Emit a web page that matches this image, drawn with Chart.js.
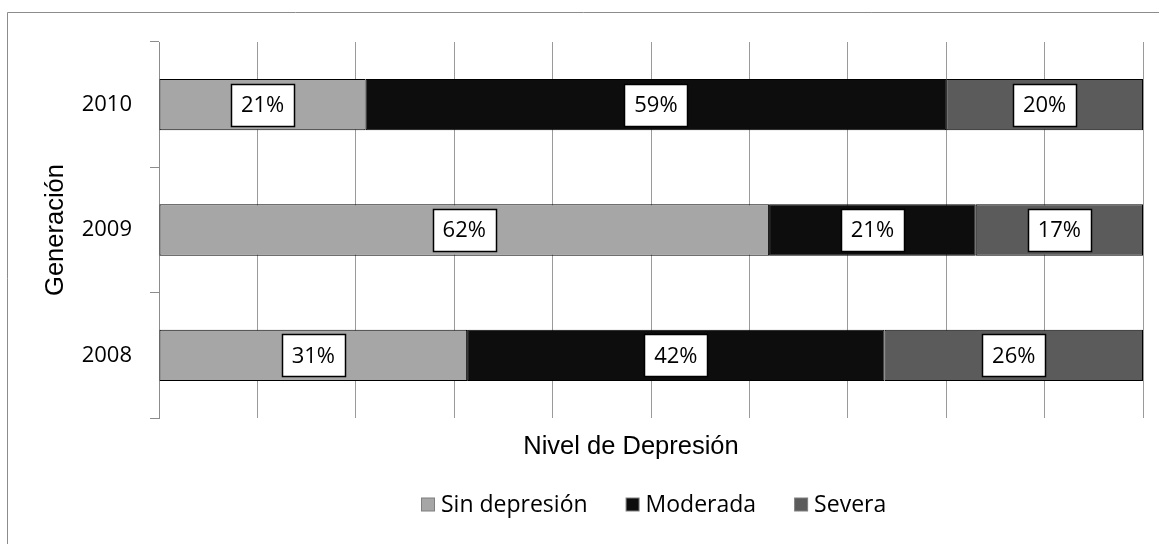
<!DOCTYPE html>
<html>
<head>
<meta charset="utf-8">
<script src="https://cdn.jsdelivr.net/npm/chart.js@4.4.1/dist/chart.umd.min.js"></script>
<style>
  html, body { margin: 0; padding: 0; background: #fff; }
  #wrap { width: 1159px; height: 544px; position: relative; }
</style>
</head>
<body>
<div id="wrap"><canvas id="c" width="1159" height="544"></canvas></div>
<script>
// Generations (top to bottom) and the share of each depression level, in %
const years = ['2010', '2009', '2008'];
const sinDepresion = [21, 62, 31];
const moderada = [59, 21, 42];
const severa = [20, 17, 26];

const seriesNames = ['Sin depresión', 'Moderada', 'Severa'];
const seriesColors = ['#a6a6a6', '#0d0d0d', '#5b5b5b'];
const seriesValues = [sinDepresion, moderada, severa];

const yTitle = 'Generación';
const xTitle = 'Nivel de Depresión';

// 100% stacked: each row is scaled by its own total
const rowTotals = years.map((_, i) => seriesValues.reduce((s, arr) => s + arr[i], 0));

const labelFont = '22px "Open Sans", "Noto Sans", sans-serif';
const legendFont = '23px "Open Sans", "Noto Sans", sans-serif';
const titleFont = '25.5px "Liberation Sans", Arial, sans-serif';

const datasets = seriesNames.map((name, k) => ({
  label: name,
  data: seriesValues[k].map((v, i) => v / rowTotals[i] * 100),
  pct: seriesValues[k],
  backgroundColor: seriesColors[k],
  borderColor: '#000',
  borderWidth: 1,
  borderSkipped: false,
  categoryPercentage: 1,
  barPercentage: 0.41
}));

const decorations = {
  id: 'decorations',
  beforeDraw(chart) {
    const ctx = chart.ctx;
    ctx.save();
    ctx.fillStyle = '#fff';
    ctx.fillRect(0, 0, chart.width, chart.height);
    ctx.strokeStyle = '#8c8c8c';
    ctx.lineWidth = 1;
    ctx.beginPath();
    ctx.moveTo(7.5, chart.height);
    ctx.lineTo(7.5, 12.5);
    ctx.lineTo(chart.width, 12.5);
    ctx.stroke();
    ctx.restore();
  },
  afterDatasetsDraw(chart) {
    const ctx = chart.ctx;
    ctx.save();
    ctx.font = labelFont;
    ctx.textAlign = 'center';
    ctx.textBaseline = 'middle';
    chart.data.datasets.forEach((ds, k) => {
      chart.getDatasetMeta(k).data.forEach((bar, i) => {
        const txt = ds.pct[i] + '%';
        const cx = (bar.x + bar.base) / 2;
        const cy = bar.y;
        const w = ctx.measureText(txt).width + 20;
        const h = 42;
        const x0 = Math.round(cx - w / 2) + 0.5;
        const y0 = Math.round(cy - h / 2) + 0.5;
        ctx.fillStyle = '#fff';
        ctx.fillRect(x0, y0, Math.round(w), h);
        ctx.strokeStyle = '#000';
        ctx.lineWidth = 1.5;
        ctx.strokeRect(x0, y0, Math.round(w), h);
        ctx.fillStyle = '#000';
        ctx.fillText(txt, cx, cy + 1);
      });
    });
    ctx.restore();
  },
  afterDraw(chart) {
    const ctx = chart.ctx;
    const area = chart.chartArea;
    ctx.save();
    ctx.fillStyle = '#000';
    // axis titles
    ctx.font = titleFont;
    ctx.textAlign = 'center';
    ctx.textBaseline = 'alphabetic';
    ctx.fillText(xTitle, 631, 454);
    ctx.save();
    ctx.translate(63, (area.top + area.bottom) / 2);
    ctx.rotate(-Math.PI / 2);
    ctx.fillText(yTitle, 0, 0);
    ctx.restore();

    // legend
    ctx.font = legendFont;
    ctx.textAlign = 'left';
    ctx.textBaseline = 'middle';
    const box = 13, gapIn = 7, gapOut = 38, cy = 504;
    const widths = seriesNames.map(n => box + gapIn + ctx.measureText(n).width);
    const total = widths.reduce((a, b) => a + b, 0) + gapOut * (seriesNames.length - 1);
    let x = Math.round(654 - total / 2);
    seriesNames.forEach((n, k) => {
      ctx.fillStyle = seriesColors[k];
      ctx.fillRect(x + 0.5, cy - box / 2 + 0.5, box, box);
      ctx.strokeStyle = '#7f7f7f';
      ctx.lineWidth = 1;
      ctx.strokeRect(x + 0.5, cy - box / 2 + 0.5, box, box);
      ctx.fillStyle = '#000';
      ctx.fillText(n, x + box + gapIn, cy + 1);
      x += widths[k] + gapOut;
    });
    ctx.restore();
  }
};

new Chart(document.getElementById('c'), {
  type: 'bar',
  data: { labels: years, datasets },
  options: {
    indexAxis: 'y',
    responsive: false,
    animation: false,
    devicePixelRatio: 1,
    layout: { padding: { top: 42, right: 16, bottom: 0, left: 0 } },
    plugins: {
      legend: { display: false },
      tooltip: { enabled: false }
    },
    scales: {
      x: {
        stacked: true,
        min: 0,
        max: 100,
        ticks: { display: false, stepSize: 10 },
        grid: { color: '#9a9a9a', lineWidth: 1, drawTicks: false },
        border: { display: false },
        afterFit(scale) { scale.height = 126; }
      },
      y: {
        stacked: true,
        grid: { drawOnChartArea: false, drawTicks: true, tickLength: 9, color: '#8c8c8c', offset: true },
        border: { display: true, color: '#8c8c8c', width: 1 },
        ticks: {
          color: '#000',
          padding: 18,
          font: { family: '"Open Sans", "Noto Sans", sans-serif', size: 22 }
        },
        afterFit(scale) { scale.width = 159; }
      }
    }
  },
  plugins: [decorations]
});
</script>
</body>
</html>
